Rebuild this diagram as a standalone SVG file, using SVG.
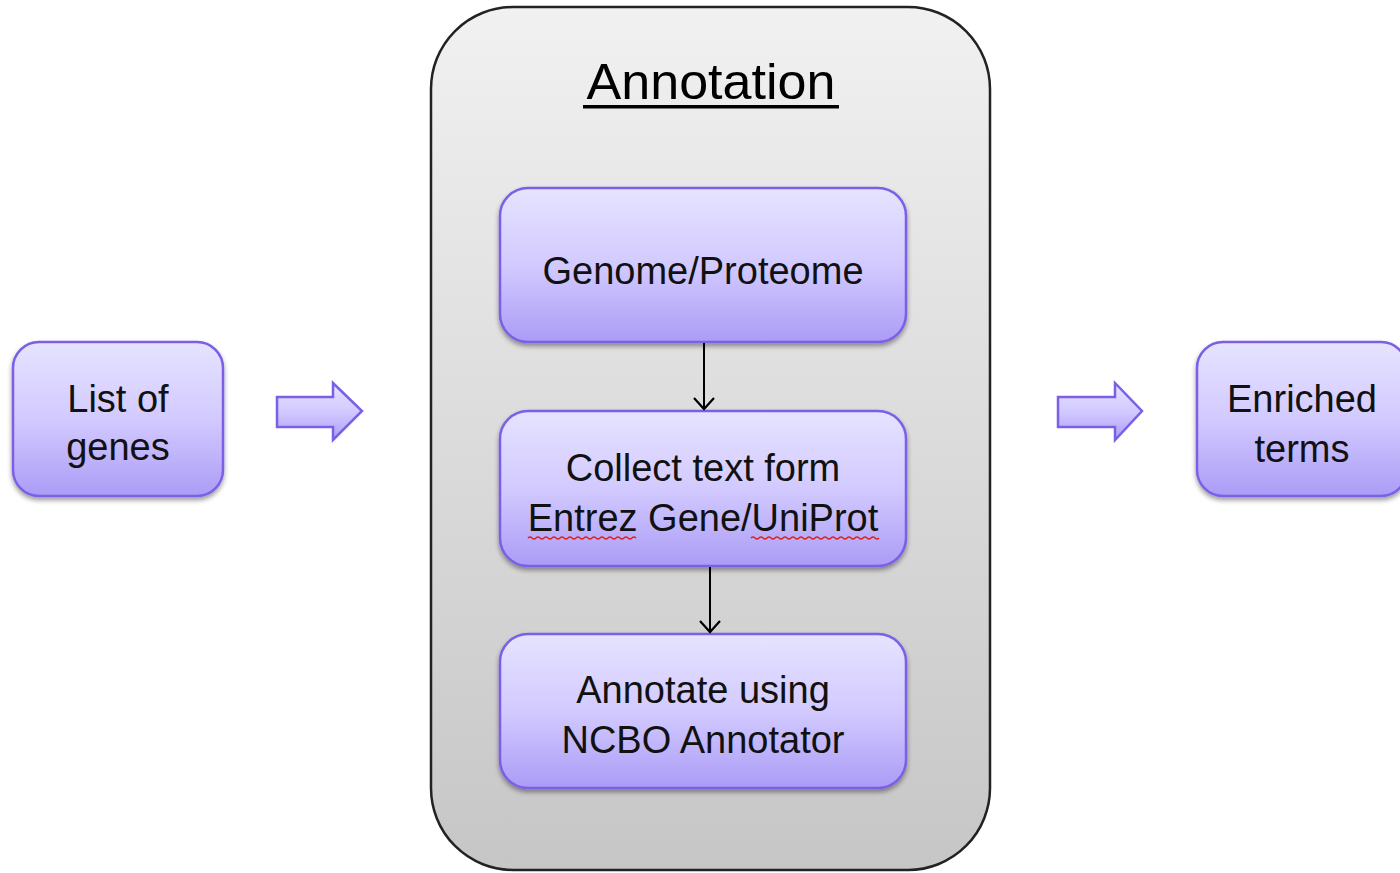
<svg xmlns="http://www.w3.org/2000/svg" width="1400" height="873" viewBox="0 0 1400 873">
<defs>
<linearGradient id="gbox" x1="0" y1="0" x2="0" y2="1">
<stop offset="0" stop-color="#f1f1f1"/><stop offset="1" stop-color="#c6c6c6"/>
</linearGradient>
<linearGradient id="gnode" x1="0" y1="0" x2="0" y2="1">
<stop offset="0" stop-color="#e6e3ff"/><stop offset="0.5" stop-color="#d2caff"/><stop offset="1" stop-color="#ab9cf6"/>
</linearGradient>
<filter id="sh" x="-10%" y="-10%" width="120%" height="130%">
<feGaussianBlur in="SourceAlpha" stdDeviation="2.5"/><feOffset dy="3" result="b"/>
<feComponentTransfer><feFuncA type="linear" slope="0.4"/></feComponentTransfer>
<feMerge><feMergeNode/><feMergeNode in="SourceGraphic"/></feMerge>
</filter>
<marker id="ah" markerWidth="20" markerHeight="24" refX="15" refY="12" orient="auto" markerUnits="userSpaceOnUse" viewBox="0 0 20 24">
<path d="M4,2 L15,12 L4,22" fill="none" stroke="#000" stroke-width="2.2"/>
</marker>
<style>
.node{fill:url(#gnode);stroke:#7b5fe6;stroke-width:2.5;filter:url(#sh)}
.t{font-family:"Liberation Sans",Arial,sans-serif;font-size:38px;fill:#111;text-anchor:middle}
.blk{fill:url(#gnode);stroke:#7b5fe6;stroke-width:2.5}
.sp{fill:none;stroke:#e0201c;stroke-width:1.5}
</style>
</defs>
<rect width="1400" height="873" fill="#fff"/>
<g id="annotation">
<rect x="431" y="7" width="559" height="863" rx="82" fill="url(#gbox)" stroke="#222" stroke-width="2.5"/>
<text x="711" y="99" textLength="249" lengthAdjust="spacingAndGlyphs" style="font-family:'Liberation Sans',Arial,sans-serif;font-size:50px;fill:#000;text-anchor:middle">Annotation</text>
<rect x="583" y="105" width="256" height="3.5" fill="#000"/>
</g>
<g id="list">
<rect class="node" x="13" y="342" width="210" height="154" rx="26"/>
<text class="t" x="118" y="412">List of</text>
<text class="t" x="118" y="460">genes</text>
</g>
<g id="genome">
<rect class="node" x="500" y="188" width="406" height="154" rx="28"/>
<text class="t" x="703" y="284">Genome/Proteome</text>
</g>
<g id="collect">
<rect class="node" x="500" y="411" width="406" height="155" rx="28"/>
<text class="t" x="703" y="481">Collect text form</text>
<text class="t" x="703" y="531">Entrez Gene/UniProt</text>
<path class="sp" d="M528,538 q2,-2 4,0 t4,0 t4,0 t4,0 t4,0 t4,0 t4,0 t4,0 t4,0 t4,0 t4,0 t4,0 t4,0 t4,0 t4,0 t4,0 t4,0 t4,0 t4,0 t4,0 t4,0 t4,0 t4,0 t4,0 t4,0 t4,0 t4,0"/>
<path class="sp" d="M751,538 q2,-2 4,0 t4,0 t4,0 t4,0 t4,0 t4,0 t4,0 t4,0 t4,0 t4,0 t4,0 t4,0 t4,0 t4,0 t4,0 t4,0 t4,0 t4,0 t4,0 t4,0 t4,0 t4,0 t4,0 t4,0 t4,0 t4,0 t4,0 t4,0 t4,0 t4,0 t4,0 t4,0"/>
</g>
<g id="annotate">
<rect class="node" x="500" y="634" width="406" height="154" rx="28"/>
<text class="t" x="703" y="703">Annotate using</text>
<text class="t" x="703" y="753">NCBO Annotator</text>
</g>
<g id="enriched">
<rect class="node" x="1197" y="342" width="210" height="154" rx="26"/>
<text class="t" x="1302" y="412">Enriched</text>
<text class="t" x="1302" y="462">terms</text>
</g>
<g id="connectors">
<line x1="704" y1="343" x2="704" y2="409" stroke="#000" stroke-width="2" marker-end="url(#ah)"/>
<line x1="710" y1="567" x2="710" y2="632" stroke="#000" stroke-width="2" marker-end="url(#ah)"/>
<path class="blk" d="M277,397 L333,397 L333,383 L362,411 L333,440 L333,427 L277,427 Z"/>
<path class="blk" d="M1058,397 L1115,397 L1115,383 L1142,411 L1115,440 L1115,427 L1058,427 Z"/>
</g>
</svg>
